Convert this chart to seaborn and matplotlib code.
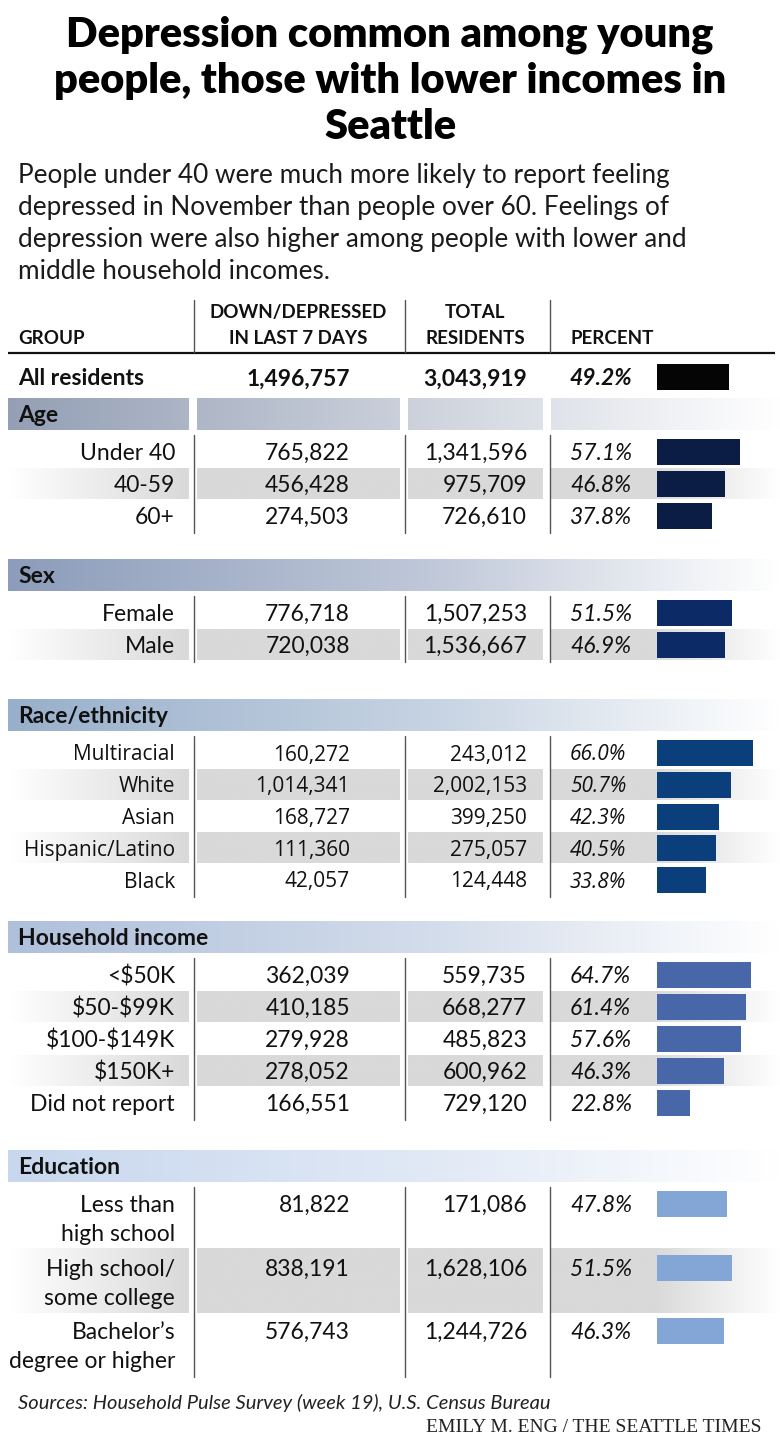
import numpy as np
import pandas as pd
import matplotlib
matplotlib.use("Agg")
import matplotlib.pyplot as plt
import seaborn as sns
from matplotlib.colors import to_rgb

sns.set_theme(style="white")
plt.rcParams["font.family"] = ["Lato", "DejaVu Sans"]

# ---------------- data ----------------
title_lines = ["Depression common among young",
               "people, those with lower incomes in",
               "Seattle"]
subtitle_lines = ["People under 40 were much more likely to report feeling",
                  "depressed in November than people over 60. Feelings of",
                  "depression were also higher among people with lower and",
                  "middle household incomes."]
col_headers = ["GROUP", "DOWN/DEPRESSED\nIN LAST 7 DAYS", "TOTAL\nRESIDENTS", "PERCENT"]

all_label = "All residents"
all_down = 1496757
all_total = 3043919
all_pct = 49.2

section_names = ["Age", "Sex", "Race/ethnicity", "Household income", "Education"]

age_labels = ["Under 40", "40-59", "60+"]
age_down = [765822, 456428, 274503]
age_total = [1341596, 975709, 726610]
age_pct = [57.1, 46.8, 37.8]

sex_labels = ["Female", "Male"]
sex_down = [776718, 720038]
sex_total = [1507253, 1536667]
sex_pct = [51.5, 46.9]

race_labels = ["Multiracial", "White", "Asian", "Hispanic/Latino", "Black"]
race_down = [160272, 1014341, 168727, 111360, 42057]
race_total = [243012, 2002153, 399250, 275057, 124448]
race_pct = [66.0, 50.7, 42.3, 40.5, 33.8]

income_labels = ["<$50K", "$50-$99K", "$100-$149K", "$150K+", "Did not report"]
income_down = [362039, 410185, 279928, 278052, 166551]
income_total = [559735, 668277, 485823, 600962, 729120]
income_pct = [64.7, 61.4, 57.6, 46.3, 22.8]

edu_labels = ["Less than\nhigh school", "High school/\nsome college", "Bachelor\u2019s\ndegree or higher"]
edu_down = [81822, 838191, 576743]
edu_total = [171086, 1628106, 1244726]
edu_pct = [47.8, 51.5, 46.3]

source_text = "Sources: Household Pulse Survey (week 19), U.S. Census Bureau"
credit_text = "EMILY M. ENG / THE SEATTLE TIMES"

sections = [
    (section_names[0], age_labels, age_down, age_total, age_pct),
    (section_names[1], sex_labels, sex_down, sex_total, sex_pct),
    (section_names[2], race_labels, race_down, race_total, race_pct),
    (section_names[3], income_labels, income_down, income_total, income_pct),
    (section_names[4], edu_labels, edu_down, edu_total, edu_pct),
]

# ---------------- style / layout ----------------
W, H = 780, 1437
PX = 100 / 72  # px per pt
bar_colors = {"All": "#050505", "Age": "#0c1d45", "Sex": "#0b2a66",
              "Race/ethnicity": "#0b3f7c", "Household income": "#4767a8",
              "Education": "#83a6d7"}
band_colors = {"Age": "#949fb5", "Sex": "#8c9cba", "Race/ethnicity": "#98afcb",
               "Household income": "#afc0db", "Education": "#c8d7ee"}
shade = "#d9d9d9"
sec_first_y = [452, 613, 753, 975, 1204]
sec_step = [32, 32, 31.75, 32, 63.5]
line_gap = 29
col_sep = [194, 405, 550]
LABEL_R, DOWN_R, TOTAL_R, PCT_L, BAR_L = 175, 350, 527, 570, 657
PX_PER_PCT = 96 / 66.0
BAR_H = 26

fig = plt.figure(figsize=(W / 100, H / 100), dpi=100, facecolor="white")
ax = fig.add_axes([0, 0, 1, 1])
ax.axis("off")


def txt(x, yc, s, size, ha="left", weight="normal", style="normal", family=None, color="#111111"):
    kw = {}
    if family is not None:
        kw["family"] = family
    ax.text(x, yc + 0.36 * size * PX, s, fontsize=size, ha=ha, va="baseline",
            fontweight=weight, fontstyle=style, color=color, zorder=5,
            parse_math=False, **kw)


def hgrad(x0, x1, y0, y1, stops):
    # stops: list of (pos 0..1, color)
    n = 256
    xs = np.linspace(0, 1, n)
    pos = [p for p, _ in stops]
    cols = np.array([to_rgb(c) for _, c in stops])
    arr = np.stack([np.interp(xs, pos, cols[:, k]) for k in range(3)], axis=-1)
    ax.imshow(arr[None, :, :], extent=(x0, x1, y1, y0), aspect="auto",
              interpolation="bilinear", zorder=1)


# ---------------- title & subtitle ----------------
for i, s in enumerate(title_lines):
    txt(W / 2, 32 + i * 46, s, 30, ha="center", weight="heavy", color="black")
for i, s in enumerate(subtitle_lines):
    txt(18, 174 + i * 32, s, 18.8, color="#1a1a1a")

# ---------------- header ----------------
hs = 13.5
txt(18, 337, col_headers[0], hs, weight="bold")
h1 = col_headers[1].split("\n")
txt(298, 311, h1[0], hs, ha="center", weight="bold")
txt(298, 337, h1[1], hs, ha="center", weight="bold")
h2 = col_headers[2].split("\n")
txt(475, 311, h2[0], hs, ha="center", weight="bold")
txt(475, 337, h2[1], hs, ha="center", weight="bold")
txt(PCT_L, 337, col_headers[3], hs, weight="bold")
ax.plot([8, 775], [353, 353], color="#111111", lw=1.6, zorder=4, solid_capstyle="butt")
for xs in col_sep:
    ax.plot([xs, xs], [300, 352], color="#555555", lw=1.0, zorder=4)

# All residents row
fs = 16.5
txt(18, 377, all_label, fs, weight="bold")
txt(DOWN_R, 377, f"{all_down:,}", fs, ha="right", weight="bold")
txt(TOTAL_R, 377, f"{all_total:,}", fs, ha="right", weight="bold")
txt(PCT_L, 377, f"{all_pct:.1f}%", fs, weight="bold", style="italic")

bar_rows = [{"pct": all_pct, "ypos": 377, "group": "All"}]

seg_l = [(8, 189), (197, 400), (408, 543), (551, 780)]
for si, (name, labels, down, total, pct) in enumerate(sections):
    y0 = sec_first_y[si]
    step = sec_step[si]
    btop, bbot = y0 - 54, y0 - 22
    bc = band_colors[name]
    if si == 0:
        # split band, one gradient across all segments
        for (a, b) in seg_l:
            f0, f1 = (a - 8) / 772, (b - 8) / 772
            c0 = np.array(to_rgb(bc)) + (1 - np.array(to_rgb(bc))) * f0
            c1 = np.array(to_rgb(bc)) + (1 - np.array(to_rgb(bc))) * min(f1, 1)
            hgrad(a, b, btop, bbot, [(0, c0), (1, c1)])
    else:
        hgrad(8, 780, btop, bbot, [(0, bc), (0.55, np.array(to_rgb(bc)) * 0.55 + 0.45), (1, "white")])
    txt(18, (btop + bbot) / 2, name, 16.5, weight="bold")

    fam = ["Open Sans", "DejaVu Sans"] if name == "Race/ethnicity" else None
    size = 15 if fam else 16.5
    two_line = any("\n" in l for l in labels)
    last_y = y0
    for ri in range(len(labels)):
        y = y0 + ri * step
        lines = labels[ri].split("\n")
        if ri % 2 == 1:
            if two_line:
                st, sb = y - 19, y + line_gap + 17
            else:
                st, sb = y - 16, y + 15
            hgrad(8, 189, st, sb, [(0, "white"), (1, shade)])
            hgrad(197, 400, st, sb, [(0, shade), (1, shade)])
            hgrad(408, 543, st, sb, [(0, shade), (1, shade)])
            hgrad(551, 780, st, sb, [(0, shade), (0.45, shade), (1, "white")])
        for li, ln in enumerate(lines):
            txt(LABEL_R, y + li * line_gap, ln, size, ha="right", family=fam)
        txt(DOWN_R, y, f"{down[ri]:,}", size, ha="right", family=fam)
        txt(TOTAL_R, y, f"{total[ri]:,}", size, ha="right", family=fam)
        txt(PCT_L, y, f"{pct[ri]:.1f}%", size, style="italic", family=fam)
        bar_rows.append({"pct": pct[ri], "ypos": y, "group": name})
        last_y = y + (len(lines) - 1) * line_gap
    for xs in col_sep:
        ax.plot([xs, xs], [y0 - 17, last_y + 17], color="#555555", lw=1.0, zorder=4)

# footer
txt(18, 1402, source_text, 14.5, style="italic", color="#222222")
txt(762, 1425, credit_text, 14, ha="right", family=["Liberation Serif", "DejaVu Serif"], color="#222222")

ax.set_xlim(0, W)
ax.set_ylim(H, 0)

# ---------------- bars via seaborn ----------------
df = pd.DataFrame(bar_rows)
ys = np.sort(df["ypos"].unique())
min_sp = np.min(np.diff(ys))
bax = fig.add_axes([BAR_L / W, 0, (W - BAR_L) / W, 1])
bax.patch.set_alpha(0)
sns.barplot(data=df, x="pct", y="ypos", hue="group", palette=bar_colors,
            orient="h", native_scale=True, dodge=False, legend=False,
            width=BAR_H / min_sp, saturation=1, linewidth=0, ax=bax, zorder=6)
bax.set_xlim(0, (W - BAR_L) / PX_PER_PCT)
bax.set_ylim(H, 0)
bax.axis("off")

fig.savefig("out.png", dpi=100, facecolor="white")
